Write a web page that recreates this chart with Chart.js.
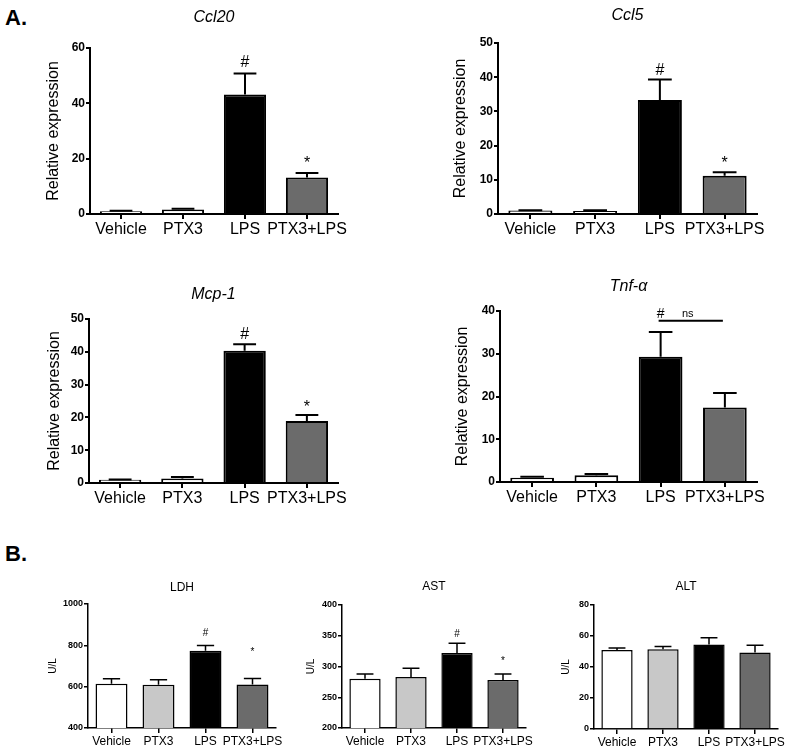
<!DOCTYPE html>
<html>
<head>
<meta charset="utf-8">
<script src="https://cdn.jsdelivr.net/npm/chart.js@4"></script>
<style>
    body { margin: 0; background: #fff; width: 800px; height: 755px; position: relative; overflow: hidden; font-family: "Liberation Sans", Arial, sans-serif; }
    canvas { position: absolute; }
    .panel { position: absolute; font-weight: bold; font-size: 22px; }
</style>
</head>
<body>
<div class="panel" style="left:5px;top:5px">A.</div>
<div class="panel" style="left:5px;top:541px">B.</div>
<canvas id="ccl20"></canvas>
<canvas id="ccl5"></canvas>
<canvas id="mcp1"></canvas>
<canvas id="tnf"></canvas>
<canvas id="ldh"></canvas>
<canvas id="ast"></canvas>
<canvas id="alt"></canvas>
<script>
const groups = ['Vehicle', 'PTX3', 'LPS', 'PTX3+LPS']
const topColors = ['#ffffff', '#ffffff', '#000000', '#6b6b6b']
const bottomColors = ['#ffffff', '#c8c8c8', '#000000', '#6b6b6b']

// A. relative expression (mean, upper error)
const ccl20Mean = [1.0, 1.6, 43.2, 13.2]
const ccl20Err = [0.2, 0.3, 7.6, 1.6]
const ccl20Ticks = [0, 20, 40, 60]
const ccl20Marks = ['', '', '#', '*']

const ccl5Mean = [1.0, 0.9, 33.3, 11.2]
const ccl5Err = [0.1, 0.2, 6.0, 1.0]
const ccl5Ticks = [0, 10, 20, 30, 40, 50]
const ccl5Marks = ['', '', '#', '*']

const mcp1Mean = [1.0, 1.4, 40.3, 18.9]
const mcp1Err = [0.1, 0.4, 2.0, 1.8]
const mcp1Ticks = [0, 10, 20, 30, 40, 50]
const mcp1Marks = ['', '', '#', '*']

const tnfMean = [1.0, 1.6, 29.3, 17.4]
const tnfErr = [0.2, 0.3, 5.8, 3.4]
const tnfTicks = [0, 10, 20, 30, 40]
const tnfMarks = ['', '', '#', '']
const tnfNsLevel = 37.7

// B. serum enzymes (U/L)
const ldhMean = [614, 609, 774, 611]
const ldhErr = [24, 24, 25, 29]
const ldhTicks = [400, 600, 800, 1000]
const ldhMarks = ['', '', '#', '*']

const astMean = [280, 283, 322, 278]
const astErr = [8, 14, 16, 10]
const astTicks = [200, 250, 300, 350, 400]
const astMarks = ['', '', '#', '*']

const altMean = [51, 51.5, 54.5, 49.3]
const altErr = [1.3, 1.7, 4.3, 4.7]
const altTicks = [0, 20, 40, 60, 80]
const altMarks = ['', '', '', '']

const family = '"Liberation Sans", Arial, sans-serif'

// error bars, # / * marks, ns bracket and the panel title
const barExtras = {
    id: 'barExtras',
    afterDatasetsDraw(chart, args, o) {
        const ctx = chart.ctx
        const y = chart.scales.y
        const ds = chart.data.datasets[0]
        const bars = chart.getDatasetMeta(0).data
        ctx.save()
        ctx.strokeStyle = '#000'
        ctx.fillStyle = '#000'
        ctx.lineWidth = o.lineWidth
        bars.forEach((bar, i) => {
            const top = y.getPixelForValue(ds.data[i] + ds.errors[i])
            const half = bar.width * 0.27
            ctx.beginPath()
            ctx.moveTo(bar.x, bar.y)
            ctx.lineTo(bar.x, top)
            ctx.moveTo(bar.x - half, top)
            ctx.lineTo(bar.x + half, top)
            ctx.stroke()
            if (ds.marks[i]) {
                ctx.font = o.markFont
                ctx.textAlign = 'center'
                ctx.textBaseline = 'alphabetic'
                ctx.fillText(ds.marks[i], bar.x, top - o.markGap[i])
            }
        })
        if (o.ns) {
            const ly = y.getPixelForValue(o.ns.level)
            const x1 = bars[o.ns.from].x - 2
            const x2 = bars[o.ns.to].x - 2
            ctx.beginPath()
            ctx.moveTo(x1, ly)
            ctx.lineTo(x2, ly)
            ctx.stroke()
            ctx.font = '11px ' + family
            ctx.textAlign = 'center'
            ctx.textBaseline = 'alphabetic'
            ctx.fillText(o.ns.text, (x1 + x2) / 2 - 3, ly - 4)
        }
        const a = chart.chartArea
        ctx.font = o.titleFont
        ctx.textAlign = 'center'
        ctx.textBaseline = 'middle'
        ctx.fillText(o.title, (a.left + a.right) / 2, a.top - o.titleGap)
        ctx.restore()
    }
}

function drawChart(id, box, means, errors, tickVals, marks, colors, st) {
    const canvas = document.getElementById(id)
    canvas.width = box.cw
    canvas.height = box.ch
    canvas.style.left = box.cx + 'px'
    canvas.style.top = box.cy + 'px'

    const lh = st.yTitleSize * 1.2
    const padLeft = box.yt - box.cx - lh / 2

    return new Chart(canvas, {
        type: 'bar',
        data: {
            labels: groups,
            datasets: [{
                data: means,
                errors: errors,
                marks: marks,
                backgroundColor: colors,
                borderColor: '#000',
                borderWidth: st.line,
                barPercentage: 0.68,
                categoryPercentage: 1
            }]
        },
        options: {
            responsive: false,
            animation: false,
            layout: {
                padding: { left: padLeft, top: box.T - box.cy, right: box.cx + box.cw - box.R, bottom: 0 }
            },
            plugins: {
                legend: { display: false },
                tooltip: { enabled: false },
                barExtras: {
                    lineWidth: st.line,
                    markFont: st.markFont,
                    markGap: st.markGap,
                    title: st.title,
                    titleFont: st.titleFont,
                    titleGap: st.titleGap,
                    ns: st.ns
                }
            },
            scales: {
                x: {
                    offset: true,
                    afterFit: (s) => { s.height = box.cy + box.ch - box.B },
                    grid: { offset: false, drawOnChartArea: false, tickLength: 5, color: '#000', lineWidth: st.line },
                    border: { color: '#000', width: st.line },
                    ticks: { color: '#000', padding: 1, maxRotation: 0, autoSkip: false, font: { family: family, size: st.xSize } }
                },
                y: {
                    min: tickVals[0],
                    max: tickVals[tickVals.length - 1],
                    afterBuildTicks: (s) => { s.ticks = tickVals.map(v => ({ value: v })) },
                    afterFit: (s) => { s.width = box.L - (box.cx + padLeft) },
                    grid: { drawOnChartArea: false, tickLength: 4, color: '#000', lineWidth: st.line },
                    border: { color: '#000', width: st.line },
                    ticks: {
                        color: '#000',
                        padding: 1,
                        callback: (v) => String(v),
                        font: { family: family, size: st.ySize, weight: 'bold' }
                    },
                    title: {
                        display: true,
                        text: st.yTitle,
                        color: '#000',
                        padding: 0,
                        font: { family: family, size: st.yTitleSize }
                    }
                }
            }
        },
        plugins: [barExtras]
    })
}

const topStyle = {
    line: 2, xSize: 16, ySize: 12, yTitleSize: 16, yTitle: 'Relative expression',
    markFont: '16px ' + family, titleFont: 'italic 16px ' + family
}
const bottomStyle = {
    line: 1.5, xSize: 12, ySize: 9, yTitleSize: 10, yTitle: 'U/L',
    markFont: '10px ' + family, titleFont: '12px ' + family
}

drawChart('ccl20', { cx: 0, cy: 0, cw: 360, ch: 240, L: 90, R: 338, T: 48, B: 214, yt: 54 },
    ccl20Mean, ccl20Err, ccl20Ticks, ccl20Marks, topColors,
    { ...topStyle, title: 'Ccl20', titleGap: 30, markGap: [0, 0, 6, 5] })

drawChart('ccl5', { cx: 400, cy: 0, cw: 400, ch: 240, L: 498, R: 757, T: 43, B: 214, yt: 461 },
    ccl5Mean, ccl5Err, ccl5Ticks, ccl5Marks, topColors,
    { ...topStyle, title: 'Ccl5', titleGap: 27, markGap: [0, 0, 5, 4] })

drawChart('mcp1', { cx: 0, cy: 260, cw: 360, ch: 250, L: 89, R: 338, T: 319, B: 483, yt: 55 },
    mcp1Mean, mcp1Err, mcp1Ticks, mcp1Marks, topColors,
    { ...topStyle, title: 'Mcp-1', titleGap: 24, markGap: [0, 0, 5, 3] })

drawChart('tnf', { cx: 400, cy: 260, cw: 400, ch: 250, L: 500, R: 757, T: 311, B: 482, yt: 463 },
    tnfMean, tnfErr, tnfTicks, tnfMarks, topColors,
    { ...topStyle, title: 'Tnf-\u03b1', titleGap: 24, markGap: [0, 0, 14, 0], markFont: '14px ' + family,
      ns: { from: 2, to: 3, level: tnfNsLevel, text: 'ns' } })

drawChart('ldh', { cx: 0, cy: 570, cw: 290, ch: 185, L: 88, R: 276, T: 604, B: 728, yt: 53 },
    ldhMean, ldhErr, ldhTicks, ldhMarks, bottomColors,
    { ...bottomStyle, title: 'LDH', titleGap: 16, markGap: [0, 0, 10, 23] })

drawChart('ast', { cx: 280, cy: 570, cw: 260, ch: 185, L: 342, R: 526, T: 605, B: 728, yt: 311 },
    astMean, astErr, astTicks, astMarks, bottomColors,
    { ...bottomStyle, title: 'AST', titleGap: 18, markGap: [0, 0, 6, 10] })

drawChart('alt', { cx: 540, cy: 570, cw: 260, ch: 185, L: 594, R: 778, T: 605, B: 729, yt: 566 },
    altMean, altErr, altTicks, altMarks, bottomColors,
    { ...bottomStyle, title: 'ALT', titleGap: 18, markGap: [0, 0, 0, 0] })
</script>
</body>
</html>
